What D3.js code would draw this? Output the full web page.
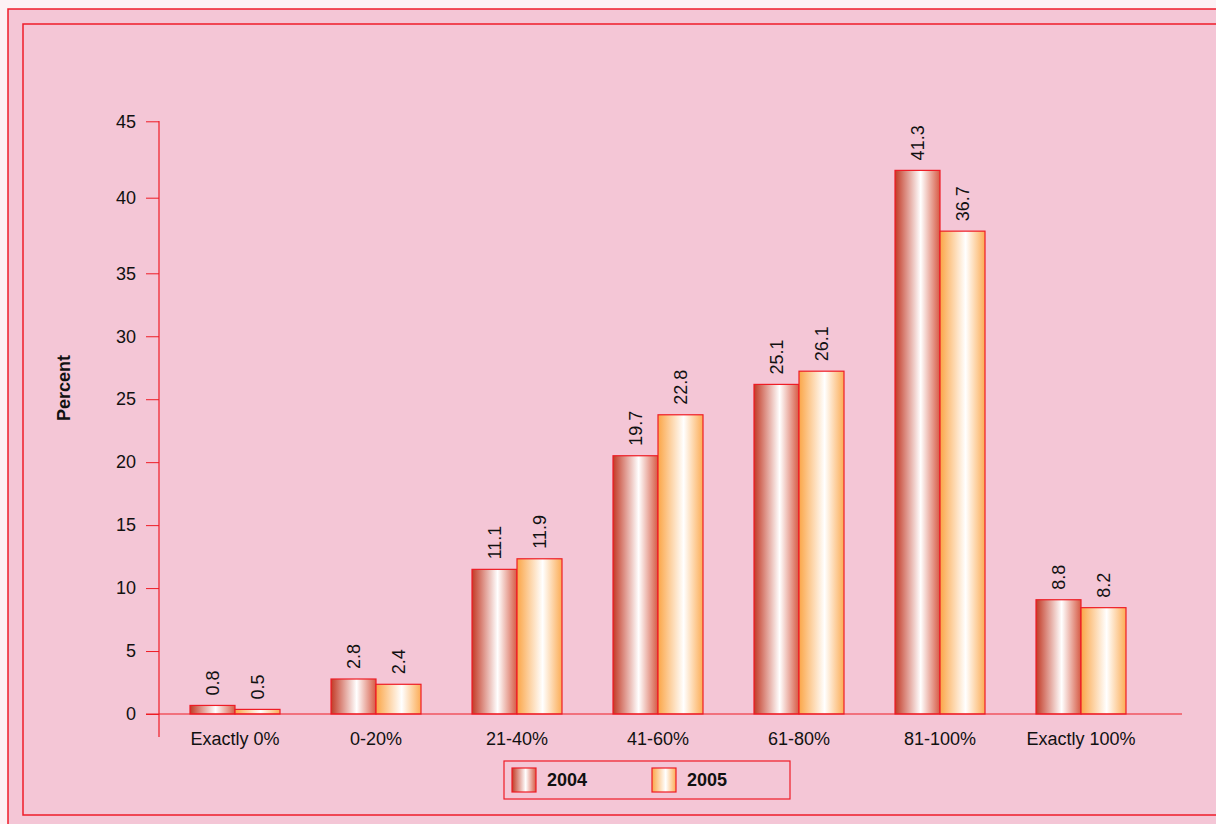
<!DOCTYPE html>
<html>

<head>
  <meta charset="utf-8">
  <style>
    body { margin: 0; background: #fdf1f4; }
    text { font-family: "Liberation Sans", Arial, sans-serif; fill: #111; }
  </style>
</head>

<body>
  <script src="https://d3js.org/d3.v7.min.js"></script>
  <script>
    var categories = ["Exactly 0%", "0-20%", "21-40%", "41-60%", "61-80%", "81-100%", "Exactly 100%"];
    var years = ["2004", "2005"];
    var values2004 = [0.8, 2.8, 11.1, 19.7, 25.1, 41.3, 8.8];
    var values2005 = [0.5, 2.4, 11.9, 22.8, 26.1, 36.7, 8.2];
    var yTicks = [0, 5, 10, 15, 20, 25, 30, 35, 40, 45];

    var width = 1216,
      height = 824;

    var svg = d3.select("body").append("svg")
      .attr("width", width)
      .attr("height", height);

    // gradients for the bars
    var defs = svg.append("defs");
    var grads = {
      "2004": ["#c23a26", "#ffffff", "#d65a44"],
      "2005": ["#fba648", "#ffffff", "#fcac55"]
    };
    years.forEach(function(yr) {
      var g = defs.append("linearGradient").attr("id", "g" + yr)
        .attr("x1", "0%").attr("x2", "100%").attr("y1", "0%").attr("y2", "0%");
      g.append("stop").attr("offset", "0%").attr("stop-color", grads[yr][0]);
      g.append("stop").attr("offset", "57%").attr("stop-color", grads[yr][1]);
      g.append("stop").attr("offset", "100%").attr("stop-color", grads[yr][2]);
    });

    // frame
    svg.append("rect")
      .attr("x", 8).attr("y", 9).attr("width", 1230).attr("height", 840)
      .attr("fill", "#f4c6d6").attr("stroke", "#ee1c2a").attr("stroke-width", 1.5);
    svg.append("rect")
      .attr("x", 23).attr("y", 24).attr("width", 1220).attr("height", 791)
      .attr("fill", "none").attr("stroke", "#ee1c2a").attr("stroke-width", 1.5);

    var data = categories.map(function(c, i) {
      return { cat: c, vals: [ { year: "2004", value: values2004[i] }, { year: "2005", value: values2005[i] } ] };
    });

    var x0 = d3.scaleBand()
      .domain(categories)
      .range([164.5, 1151.5])
      .paddingInner(51 / 141)
      .paddingOuter(51 / 282);

    var x1 = d3.scaleBand()
      .domain(years)
      .range([0, x0.bandwidth()]);

    var y = d3.scaleLinear()
      .domain([0, 45])
      .range([716, 121.5]);

    // tick labels in the source sit on their own (uneven) spacing
    var yTick = d3.scaleLinear()
      .domain([0, 35, 40, 45])
      .range([714, 273.3, 197.7, 121.3]);

    var baseY = 714;

    // bars
    var groups = svg.selectAll(".grp")
      .data(data)
      .enter().append("g")
      .attr("class", "grp")
      .attr("transform", function(d) { return "translate(" + x0(d.cat) + ",0)"; });

    groups.selectAll("rect")
      .data(function(d) { return d.vals; })
      .enter().append("rect")
      .attr("x", function(d) { return x1(d.year); })
      .attr("y", function(d) { return y(d.value); })
      .attr("width", x1.bandwidth())
      .attr("height", function(d) { return baseY - y(d.value); })
      .attr("fill", function(d) { return "url(#g" + d.year + ")"; })
      .attr("stroke", "#ee1c25")
      .attr("stroke-width", 1.2);

    groups.selectAll(".lbl")
      .data(function(d) { return d.vals; })
      .enter().append("text")
      .attr("class", "lbl")
      .attr("transform", function(d) {
        return "translate(" + (x1(d.year) + x1.bandwidth() / 2) + "," + (y(d.value) - 10) + ") rotate(-90)";
      })
      .attr("dy", "0.35em")
      .attr("text-anchor", "start")
      .style("font-size", "18px")
      .text(function(d) { return d.value.toFixed(1); });

    // y axis
    var yAxis = svg.append("g")
      .attr("transform", "translate(159,0)")
      .call(d3.axisLeft(yTick).tickValues(yTicks).tickSize(13).tickPadding(10));
    yAxis.select(".domain").remove();
    yAxis.selectAll(".tick line").attr("stroke", "#ee1c25");
    yAxis.selectAll(".tick text").style("font-size", "18px").attr("fill", "#111");

    svg.append("line")
      .attr("x1", 159).attr("x2", 159).attr("y1", 121).attr("y2", 737)
      .attr("stroke", "#ee1c25").attr("stroke-width", 1.2);

    // x axis
    var xAxis = svg.append("g")
      .attr("transform", "translate(0," + baseY + ")")
      .call(d3.axisBottom(x0).tickSize(0).tickPadding(18));
    xAxis.select(".domain").remove();
    xAxis.selectAll(".tick text").style("font-size", "18px").attr("fill", "#111");

    svg.append("line")
      .attr("x1", 146).attr("x2", 1182).attr("y1", baseY).attr("y2", baseY)
      .attr("stroke", "#ee1c25").attr("stroke-width", 1.2);

    svg.append("text")
      .attr("transform", "translate(70,388) rotate(-90)")
      .attr("text-anchor", "middle")
      .style("font-size", "18px")
      .style("font-weight", "bold")
      .text("Percent");

    // legend
    var legend = svg.append("g");
    legend.append("rect")
      .attr("x", 504).attr("y", 761).attr("width", 286).attr("height", 38)
      .attr("fill", "none").attr("stroke", "#ee1c25").attr("stroke-width", 1.2);
    var legX = [512, 652];
    years.forEach(function(yr, i) {
      legend.append("rect")
        .attr("x", legX[i]).attr("y", 768).attr("width", 24).attr("height", 24)
        .attr("fill", "url(#g" + yr + ")").attr("stroke", "#ee1c25").attr("stroke-width", 1.2);
      legend.append("text")
        .attr("x", legX[i] + 35).attr("y", 786)
        .style("font-size", "18px")
        .style("font-weight", "bold")
        .text(yr);
    });
  </script>
</body>

</html>
